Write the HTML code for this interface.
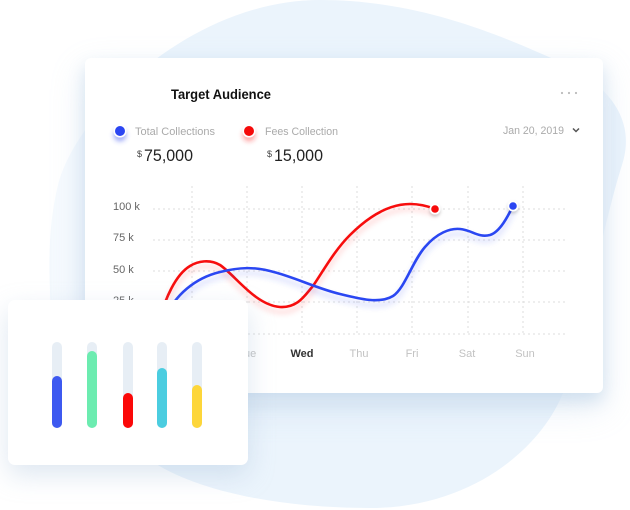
<!DOCTYPE html>
<html><head><meta charset="utf-8"><style>
html,body{margin:0;padding:0;background:#fff;}
body{width:630px;height:510px;position:relative;overflow:hidden;font-family:"Liberation Sans",sans-serif;}
.abs{position:absolute;left:0;top:0;}
.glow{position:absolute;left:48px;top:63px;width:562px;height:340px;background:rgba(255,255,255,0.55);filter:blur(3px);border-radius:6px;}
.card{position:absolute;left:85px;top:58px;width:518px;height:335px;background:#fff;border-radius:6px;box-shadow:0 8px 16px rgba(150,185,220,0.30),0 14px 34px rgba(170,195,225,0.30);}
.small{position:absolute;left:8px;top:300px;width:240px;height:165px;background:#fff;border-radius:7px;box-shadow:0 10px 26px rgba(160,185,215,0.35);}
</style></head><body>
<svg class="abs" width="630" height="510" viewBox="0 0 630 510">
<path d="M 320,0 C 420,0 500,35 560,62 C 612,86 636,122 622,165 C 606,215 590,300 563,393 C 540,450 470,508 370,508 C 270,508 190,488 150,460 C 100,425 50,360 50,290 C 48,240 52,210 58,185 C 75,115 190,0 320,0 Z" fill="#ebf4fc"/>
</svg>
<div class="glow"></div>
<div class="card"></div>
<svg class="abs" width="630" height="510" viewBox="0 0 630 510" font-family="Liberation Sans, sans-serif">
<defs>
<filter id="gb" x="-20%" y="-30%" width="140%" height="180%"><feDropShadow dx="0" dy="5" stdDeviation="3" flood-color="#3a55f0" flood-opacity="0.28"/></filter>
<filter id="gr" x="-20%" y="-30%" width="140%" height="180%"><feDropShadow dx="0" dy="5" stdDeviation="3" flood-color="#ff2020" flood-opacity="0.22"/></filter>
<filter id="ds" x="-100%" y="-100%" width="300%" height="300%"><feDropShadow dx="0" dy="2" stdDeviation="1.5" flood-color="#000" flood-opacity="0.2"/></filter>
<filter id="lb" x="-100%" y="-100%" width="300%" height="300%"><feDropShadow dx="0" dy="4" stdDeviation="2.5" flood-color="#3a55f0" flood-opacity="0.45"/></filter>
<filter id="lr" x="-100%" y="-100%" width="300%" height="300%"><feDropShadow dx="0" dy="4" stdDeviation="2.5" flood-color="#ff2020" flood-opacity="0.4"/></filter>
</defs>
<text x="171" y="99" font-size="14" font-weight="bold" fill="#111" textLength="100" lengthAdjust="spacingAndGlyphs">Target Audience</text>
<circle cx="562" cy="93" r="1.1" fill="#bbb"/><circle cx="569" cy="93" r="1.1" fill="#bbb"/><circle cx="576" cy="93" r="1.1" fill="#bbb"/>
<circle cx="120" cy="131" r="6.5" fill="#fff" filter="url(#lb)"/><circle cx="120" cy="131" r="5" fill="#2b46f2"/>
<circle cx="249" cy="131" r="6.5" fill="#fff" filter="url(#lr)"/><circle cx="249" cy="131" r="5" fill="#f50a0a"/>
<text x="135" y="135" font-size="11" fill="#aaa" textLength="80" lengthAdjust="spacingAndGlyphs">Total Collections</text>
<text x="265" y="135" font-size="11" fill="#aaa" textLength="73" lengthAdjust="spacingAndGlyphs">Fees Collection</text>
<text x="137" y="157" font-size="9" fill="#444">$</text>
<text x="144" y="161" font-size="17" fill="#222" textLength="49" lengthAdjust="spacingAndGlyphs">75,000</text>
<text x="267" y="157" font-size="9" fill="#444">$</text>
<text x="274" y="161" font-size="17" fill="#222" textLength="49" lengthAdjust="spacingAndGlyphs">15,000</text>
<text x="503" y="134" font-size="11" fill="#aaa" textLength="61" lengthAdjust="spacingAndGlyphs">Jan 20, 2019</text>
<path d="M 573,128.5 L 576,131.5 L 579,128.5" fill="none" stroke="#555" stroke-width="1.5"/>
<g stroke="#dcdcdc" stroke-width="1" stroke-dasharray="2,3">
<line x1="153" y1="209" x2="568" y2="209"/>
<line x1="153" y1="240" x2="568" y2="240"/>
<line x1="153" y1="271" x2="568" y2="271"/>
<line x1="153" y1="302" x2="568" y2="302"/>
<line x1="153" y1="334" x2="568" y2="334"/>
<line x1="192" y1="186" x2="192" y2="334"/>
<line x1="247" y1="186" x2="247" y2="334"/>
<line x1="302" y1="186" x2="302" y2="334"/>
<line x1="357" y1="186" x2="357" y2="334"/>
<line x1="412" y1="186" x2="412" y2="334"/>
<line x1="468" y1="186" x2="468" y2="334"/>
<line x1="523" y1="186" x2="523" y2="334"/>
</g>
<g font-size="11" fill="#666">
<text x="113" y="210">100 k</text>
<text x="113" y="241">75 k</text>
<text x="113" y="273">50 k</text>
<text x="113" y="304">25 k</text>
</g>
<g font-size="11" fill="#c2c2c2" text-anchor="middle">
<text x="192" y="357">Mon</text>
<text x="247" y="357">Tue</text>
<text x="302" y="357" fill="#333" font-weight="bold">Wed</text>
<text x="359" y="357">Thu</text>
<text x="412" y="357">Fri</text>
<text x="467" y="357">Sat</text>
<text x="525" y="357">Sun</text>
</g>
<path d="M 160,318 C 165,300 175,275 190,266 C 198,261 210,259 220,265 C 235,275 255,305 280,307 C 298,308 305,295 313,286 C 325,268 335,250 350,235 C 370,215 390,204 410,204 C 422,204 430,207 435,209" fill="none" stroke="#f70a0a" stroke-width="2.6" stroke-linecap="round" filter="url(#gr)"/>
<path d="M 165,318 C 175,295 195,278 220,272 C 240,267 255,267 270,271 C 295,277 315,288 340,294 C 360,299 380,304 393,296 C 405,288 412,262 425,247 C 437,233 450,228 460,229 C 472,230 478,238 490,235 C 500,232 508,216 513,206" fill="none" stroke="#2b46f2" stroke-width="2.6" stroke-linecap="round" filter="url(#gb)"/>
<circle cx="435" cy="209" r="5.5" fill="#fff" filter="url(#ds)"/><circle cx="435" cy="209" r="3.8" fill="#f70a0a"/>
<circle cx="513" cy="206" r="5.5" fill="#fff" filter="url(#ds)"/><circle cx="513" cy="206" r="3.8" fill="#2b46f2"/>
</svg>
<div class="small"></div>
<svg class="abs" width="630" height="510" viewBox="0 0 630 510">
<g>
<rect x="52" y="342" width="10" height="86" rx="5" fill="#e7eef5"/>
<rect x="52" y="376" width="10" height="52" rx="5" fill="#3d59f0"/>
<rect x="87" y="342" width="10" height="86" rx="5" fill="#e7eef5"/>
<rect x="87" y="351" width="10" height="77" rx="5" fill="#6cecb0"/>
<rect x="123" y="342" width="10" height="86" rx="5" fill="#e7eef5"/>
<rect x="123" y="393" width="10" height="35" rx="5" fill="#fb0808"/>
<rect x="157" y="342" width="10" height="86" rx="5" fill="#e7eef5"/>
<rect x="157" y="368" width="10" height="60" rx="5" fill="#4bcde0"/>
<rect x="192" y="342" width="10" height="86" rx="5" fill="#e7eef5"/>
<rect x="192" y="385" width="10" height="43" rx="5" fill="#fdd63a"/>
</g>
</svg>
</body></html>
